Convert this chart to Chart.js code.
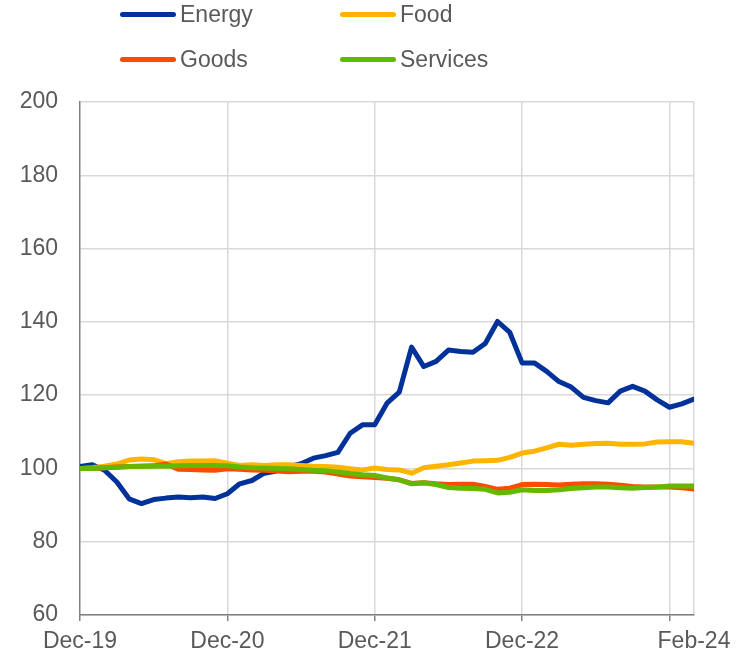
<!DOCTYPE html>
<html>
<head>
<meta charset="utf-8">
<title>Energy, Food, Goods, Services</title>
<script src="https://cdn.jsdelivr.net/npm/chart.js@4.4.1/dist/chart.umd.min.js"></script>
<style>
  html, body { margin: 0; padding: 0; background: #fff; }
  #wrap { position: relative; width: 742px; height: 657px; }
  .item {
    position: absolute; display: flex; align-items: center;
    font-family: 'Liberation Sans Narrow', 'Arial Narrow', 'Liberation Sans', Arial, sans-serif;
    font-size: 23px; color: #595959; line-height: 28px;
  }
  .swatch { width: 56px; height: 5px; border-radius: 3px; margin-right: 4px; }
</style>
</head>
<body>
<div id="wrap">
  <canvas id="chart" width="742" height="657"></canvas>
  <div id="legend"></div>
</div>
<script>
// === Données (indice, Dec-19 = 100) ===
const months = [];   // 0 = Dec-19 ... 50 = Feb-24
for (let i = 0; i <= 50; i++) months.push(i);

const tickPositions = [0, 12, 24, 36, 48, 50];
const tickLabels = ['Dec-19', 'Dec-20', 'Dec-21', 'Dec-22', '', 'Feb-24'];

const energy = [100.5, 101.0, 99.5, 96.3, 91.7, 90.4, 91.5, 91.9, 92.2, 92.0,
  92.2, 91.8, 93.1, 95.8, 96.7, 98.7, 99.3, 100.5, 101.3, 102.8,
  103.5, 104.4, 109.6, 111.9, 111.9, 117.8, 120.8, 133.1, 127.8, 129.2,
  132.3, 131.9, 131.7, 134.1, 140.1, 137.1, 128.8, 128.8, 126.5, 123.7,
  122.2, 119.4, 118.5, 117.9, 121.1, 122.4, 121.1, 118.7, 116.7, 117.6,
  118.9];
const food = [100.0, 100.2, 100.6, 101.2, 102.3, 102.6, 102.4, 101.3, 101.8, 102.0,
  102.0, 102.1, 101.4, 100.8, 101.0, 100.8, 101.0, 101.0, 100.8, 100.6,
  100.5, 100.3, 99.9, 99.6, 100.1, 99.7, 99.6, 98.7, 100.2, 100.6,
  101.0, 101.5, 102.0, 102.1, 102.2, 103.0, 104.2, 104.7, 105.6, 106.6,
  106.3, 106.6, 106.8, 106.9, 106.6, 106.6, 106.7, 107.2, 107.3, 107.3,
  106.9];
const goods = [100.0, 100.0, 100.2, 100.4, 100.5, 100.6, 100.7, 101.2, 99.8, 99.7,
  99.6, 99.5, 99.9, 99.8, 99.6, 99.5, 99.3, 99.1, 99.2, 99.2,
  99.0, 98.5, 97.9, 97.7, 97.5, 97.3, 96.9, 95.9, 96.1, 95.8,
  95.6, 95.7, 95.7, 95.1, 94.3, 94.6, 95.6, 95.7, 95.6, 95.5,
  95.7, 95.8, 95.8, 95.7, 95.4, 95.1, 94.9, 94.9, 94.9, 94.7,
  94.4];
const services = [100.0, 100.0, 100.2, 100.3, 100.5, 100.6, 100.6, 100.6, 100.7, 100.8,
  100.8, 100.8, 100.7, 100.4, 100.2, 100.1, 100.0, 99.9, 99.7, 99.5,
  99.4, 99.0, 98.6, 98.3, 98.1, 97.4, 96.9, 95.8, 96.1, 95.6,
  94.8, 94.6, 94.5, 94.3, 93.3, 93.5, 94.2, 94.0, 94.0, 94.2,
  94.5, 94.7, 94.9, 94.9, 94.7, 94.6, 94.8, 94.9, 95.2, 95.2,
  95.2];

const series = [
  { label: 'Energy', data: energy, color: '#003299', order: 3, lx: 120, ly: 14 },
  { label: 'Food', data: food, color: '#ffb400', order: 2, lx: 340, ly: 14 },
  { label: 'Goods', data: goods, color: '#ff4b00', order: 1, lx: 120, ly: 59 },
  { label: 'Services', data: services, color: '#65b800', order: 0, lx: 340, ly: 59 }
];

const FONT = "'Liberation Sans Narrow', 'Arial Narrow', 'Liberation Sans', Arial, sans-serif";

// === Légende ===
const legend = document.getElementById('legend');
series.forEach(s => {
  const div = document.createElement('div');
  div.className = 'item';
  div.style.left = s.lx + 'px';
  div.style.top = (s.ly - 14) + 'px';
  div.innerHTML = `<span class="swatch" style="background:${s.color}"></span>${s.label}`;
  legend.appendChild(div);
});

// === Graphique ===
new Chart(document.getElementById('chart'), {
  type: 'line',
  data: {
    datasets: series.map(s => ({
      label: s.label,
      data: s.data.map((v, i) => ({ x: months[i], y: v })),
      borderColor: s.color,
      backgroundColor: s.color,
      borderWidth: 5,
      pointRadius: 0,
      tension: 0,
      borderCapStyle: 'round',
      borderJoinStyle: 'round',
      order: s.order
    }))
  },
  options: {
    responsive: false,
    animation: false,
    layout: { padding: { top: 102, right: 48, left: 0, bottom: 0 } },
    plugins: { legend: { display: false }, tooltip: { enabled: false } },
    scales: {
      x: {
        type: 'linear',
        min: 0,
        max: 50,
        afterBuildTicks: scale => {
          scale.ticks = tickPositions.map(v => ({ value: v }));
        },
        afterFit: scale => { scale.height = 42; },
        ticks: {
          autoSkip: false,
          maxRotation: 0,
          padding: 7,
          color: '#595959',
          font: { family: FONT, size: 23 },
          callback: value => tickLabels[tickPositions.indexOf(value)]
        },
        grid: {
          color: ctx => (ctx.tick && ctx.tick.value === 0) ? 'rgba(0,0,0,0)' : '#d9d9d9',
          tickColor: ctx => (ctx.tick && ctx.tick.value === 50) ? 'rgba(0,0,0,0)' : '#808080',
          tickLength: 6,
          lineWidth: 1.5
        },
        border: { color: '#808080', width: 1.5 }
      },
      y: {
        min: 60,
        max: 200,
        afterFit: scale => { scale.width = 80; },
        ticks: {
          stepSize: 20,
          padding: 22,
          color: '#595959',
          font: { family: FONT, size: 23 }
        },
        grid: { color: '#d9d9d9', lineWidth: 1.5, drawTicks: false },
        border: { color: '#808080', width: 1.5 }
      }
    }
  }
});
</script>
</body>
</html>
